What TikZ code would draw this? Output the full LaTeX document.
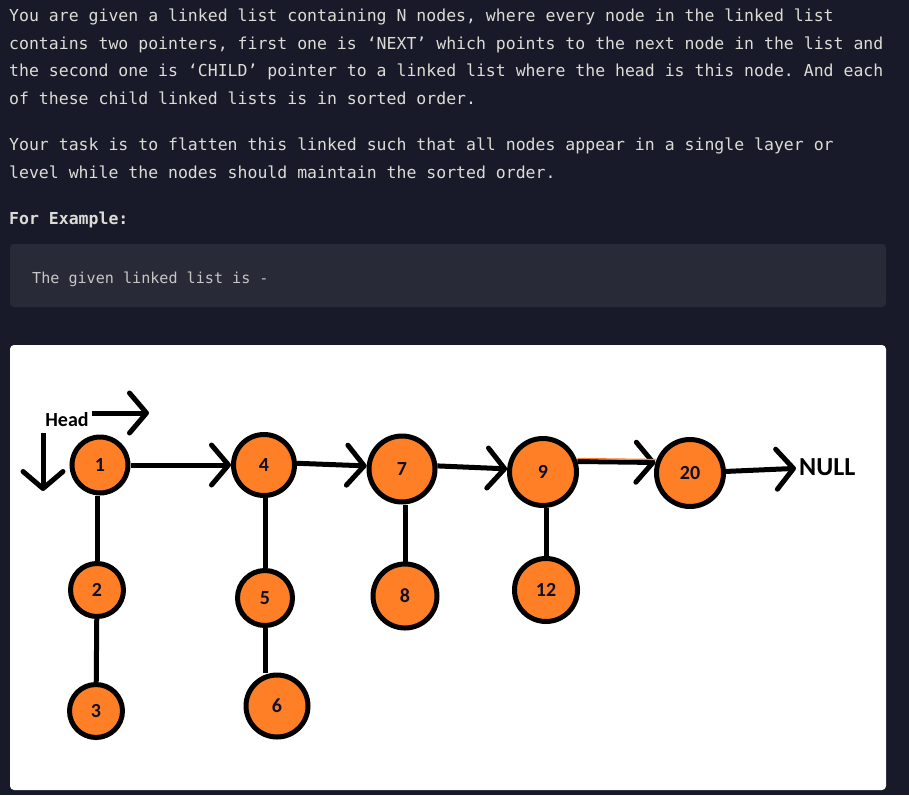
\documentclass[tikz,border=0pt]{standalone}
\usepackage{fontspec}
\setmonofont{DejaVu Sans Mono}
\newfontfamily\paintfont{Carlito}
\usetikzlibrary{positioning, arrows.meta}

\definecolor{pagebg}{HTML}{181A29}
\definecolor{codebg}{HTML}{282A37}
\definecolor{bodytext}{HTML}{DCDCD6}
\definecolor{codetext}{HTML}{C6C6C6}
\definecolor{paintorange}{HTML}{FF7F27}
\definecolor{labelink}{HTML}{101028}

\tikzset{
  listnode/.style={circle, draw=black, line width=5pt, fill=paintorange, inner sep=0pt,
    text=labelink, font=\paintfont\bfseries\fontsize{20}{20}\selectfont},
  nxt/.style={line width=5pt, -{Straight Barb[length=17pt,width=40pt,round]}},
  child/.style={line width=5pt},
  bodyline/.style={anchor=base west, inner sep=0pt, text=bodytext,
    font=\ttfamily\fontsize{16.5}{20}\selectfont},
  codeline/.style={anchor=base west, inner sep=0pt, text=codetext,
    font=\ttfamily\fontsize{15.1}{18}\selectfont},
  painttext/.style={text=black, inner sep=3pt, font=\paintfont\bfseries}
}

\begin{document}
\begin{tikzpicture}[x=1pt, y=-1pt]
\useasboundingbox (0,0) rectangle (909,795);
\fill[pagebg] (0,0) rectangle (909,795);

% Problem text
\node[bodyline] (l1) at (9,21) {You are given a linked list containing N nodes, where every node in the linked list};
\node[bodyline] (l2) at (9,49) {contains two pointers, first one is ‘NEXT’ which points to the next node in the list and};
\node[bodyline] (l3) at (9,76) {the second one is ‘CHILD’ pointer to a linked list where the head is this node. And each};
\node[bodyline] (l4) at (9,104) {of these child linked lists is in sorted order.};
\node[bodyline] (l5) at (9,150) {Your task is to flatten this linked such that all nodes appear in a single layer or};
\node[bodyline] (l6) at (9,178) {level while the nodes should maintain the sorted order.};
\node[bodyline, font=\ttfamily\bfseries\fontsize{16.5}{20}\selectfont] (forex) at (9,224) {For Example:};

% Code box
\fill[codebg, rounded corners=4pt] (10,244) rectangle (886,307);
\node[codeline] (given) at (32,283) {The given linked list is -};

% Picture panel
\fill[white, rounded corners=4pt] (10,345) rectangle (886,790);

% Main list
\node[listnode, minimum size=56pt] (n1) at (100,465) {1};
\node[listnode, minimum size=61pt] (n4) at (264,465) {4};
\node[listnode, minimum size=66pt] (n7) at (402,469) {7};
\node[listnode, minimum size=67pt] (n9) at (543,472) {9};
\node[listnode, minimum size=67pt] (n20) at (690,473) {20};
\node[painttext, anchor=west, font=\paintfont\bfseries\fontsize{26}{26}\selectfont] (null) at (796,467) {NULL};

% Child lists
\node[listnode, minimum size=53pt] (n2) at (97,590) {2};
\node[listnode, minimum size=53pt] (n3) at (96,711) {3};
\node[listnode, minimum size=55pt] (n5) at (265,598) {5};
\node[listnode, minimum size=62pt] (n6) at (277,706) {6};
\node[listnode, minimum size=64pt] (n8) at (405,596) {8};
\node[listnode, minimum size=63pt] (n12) at (546,590) {12};

% Head
\node[painttext, font=\paintfont\bfseries\fontsize{20}{20}\selectfont] (head) at (67,420) {Head};
\coordinate (headtip) at (149,413);
\coordinate (downtop) at (43,433);
\coordinate (downtip) at (43,491);
\draw[nxt] (head.east |- headtip) -- (headtip);
\draw[nxt] (downtop) -- (downtip);

% Next pointers
\draw[nxt] (n1) -- (n4);
\draw[nxt] (n4.3) -- (n7.175);
\draw[nxt] (n7.5) -- (n9.175);
\draw[nxt] (n9.17) -- (n20.163);
\draw[paintorange, line width=1.2pt] ([yshift=3pt]n9.17) -- ([yshift=3pt]n20.163);
\draw[nxt] (n20) -- (null);

% Child pointers
\draw[child] (n2) -- (n2 |- n1.south);
\draw[child] (n2) -- (n3);
\draw[child] (n5) -- (n5 |- n4.south);
\draw[child] (n5) -- (n5 |- n6.north);
\draw[child] (n8) -- (n8 |- n7.south);
\draw[child] (n12) -- (n12 |- n9.south);
\end{tikzpicture}
\end{document}
